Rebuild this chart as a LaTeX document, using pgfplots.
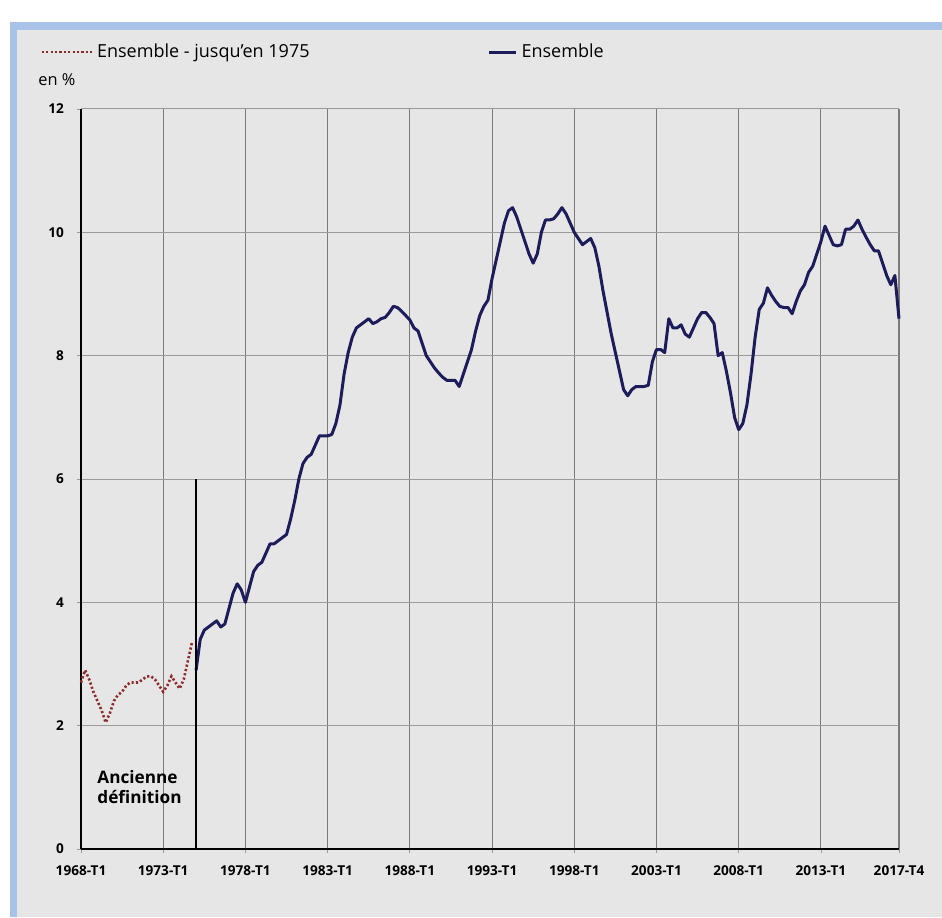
\documentclass[border=0pt]{standalone}
\usepackage{fontspec}
\setmainfont{Open Sans}
\usepackage{pgfplots}
\usepackage{pgfplotstable}
\pgfplotsset{compat=1.18}
\definecolor{bg}{HTML}{E6E6E6}
\definecolor{frameblue}{HTML}{A9C3E8}
\definecolor{navy}{HTML}{1C1C5A}
\definecolor{dred}{HTML}{8E2A2A}
\definecolor{gridx}{HTML}{7A7A7A}
\definecolor{gridy}{HTML}{9A9A9A}
\pgfplotsset{
  legA/.style={legend image code/.code={\draw[##1] (0pt,0pt) -- (25pt,0pt);}},
  legB/.style={legend image code/.code={\draw[##1] (0pt,0pt) -- (13.5pt,0pt);}},
}

\pgfplotstableread{
q v
0 2.70
1 2.90
2 2.75
3 2.55
4 2.40
5 2.25
6 2.05
7 2.20
8 2.40
9 2.50
10 2.55
11 2.65
12 2.70
13 2.70
14 2.70
15 2.75
16 2.80
17 2.80
18 2.75
19 2.65
20 2.55
21 2.65
22 2.80
23 2.70
24 2.60
25 2.75
26 3.05
27 3.35
}\ancienne

\pgfplotstableread{
q v
28 2.90
29 3.40
30 3.55
31 3.60
32 3.65
33 3.70
34 3.60
35 3.65
36 3.90
37 4.15
38 4.30
39 4.20
40 4.00
41 4.25
42 4.50
43 4.60
44 4.65
45 4.80
46 4.95
47 4.95
48 5.00
49 5.05
50 5.10
51 5.35
52 5.65
53 6.00
54 6.25
55 6.35
56 6.40
57 6.55
58 6.70
59 6.70
60 6.70
61 6.72
62 6.90
63 7.20
64 7.70
65 8.05
66 8.30
67 8.45
68 8.50
69 8.55
70 8.60
71 8.52
72 8.55
73 8.60
74 8.62
75 8.70
76 8.80
77 8.78
78 8.72
79 8.65
80 8.58
81 8.45
82 8.40
83 8.20
84 8.00
85 7.90
86 7.80
87 7.72
88 7.65
89 7.60
90 7.60
91 7.60
92 7.50
93 7.70
94 7.90
95 8.10
96 8.40
97 8.65
98 8.80
99 8.90
100 9.25
101 9.55
102 9.85
103 10.15
104 10.35
105 10.40
106 10.25
107 10.05
108 9.85
109 9.65
110 9.50
111 9.65
112 10.00
113 10.20
114 10.20
115 10.22
116 10.30
117 10.40
118 10.30
119 10.15
120 10.00
121 9.90
122 9.80
123 9.85
124 9.90
125 9.75
126 9.45
127 9.05
128 8.70
129 8.35
130 8.05
131 7.75
132 7.45
133 7.35
134 7.45
135 7.50
136 7.50
137 7.50
138 7.52
139 7.90
140 8.10
141 8.10
142 8.05
143 8.60
144 8.45
145 8.45
146 8.50
147 8.35
148 8.30
149 8.45
150 8.60
151 8.70
152 8.70
153 8.62
154 8.52
155 8.00
156 8.05
157 7.75
158 7.40
159 7.00
160 6.80
161 6.90
162 7.20
163 7.70
164 8.30
165 8.75
166 8.85
167 9.10
168 8.98
169 8.88
170 8.80
171 8.78
172 8.78
173 8.68
174 8.88
175 9.05
176 9.15
177 9.35
178 9.45
179 9.65
180 9.85
181 10.10
182 9.95
183 9.80
184 9.78
185 9.80
186 10.05
187 10.05
188 10.10
189 10.20
190 10.05
191 9.92
192 9.80
193 9.70
194 9.70
195 9.50
196 9.30
197 9.15
198 9.30
199 8.60
}\ensemble

\begin{document}
\begin{tikzpicture}[x=1pt,y=1pt]
\fill[white] (0,0) rectangle (471,458.5);
\fill[bg] (8.5,0) rectangle (471,443.5);
\fill[frameblue] (5,0) rectangle (8.5,447.5);
\fill[frameblue] (5,443.5) rectangle (471,447.5);
\begin{axis}[
  at={(40.5pt,34pt)}, anchor=south west,
  scale only axis, width=409pt, height=370pt,
  xmin=0, xmax=199, ymin=0, ymax=12,
  axis lines=left, axis line style={-, line width=1.4pt, black},
  xtick={0,20,40,60,80,100,120,140,160,180,199},
  xticklabels={1968-T1,1973-T1,1978-T1,1983-T1,1988-T1,1993-T1,1998-T1,2003-T1,2008-T1,2013-T1,2017-T4},
  ytick={0,2,4,6,8,10,12},
  grid=major,
  x grid style={gridx, line width=0.55pt},
  y grid style={gridy, line width=0.5pt},
  tick align=outside, major tick length=2pt,
  tick style={gridy, line width=0.4pt},
  ticklabel style={font=\fontsize{6.8}{7}\selectfont\bfseries},
  /pgf/number format/assume math mode=true,
  xticklabel style={yshift=-3pt},
  yticklabel style={xshift=-3pt},
  clip=false,
  legend columns=2,
  legend cell align=left,
  legend style={at={(-0.0501,1.077)}, anchor=west, draw=none, fill=none,
    inner sep=0pt, font=\fontsize{9}{10}\selectfont,
    /tikz/every even column/.append style={column sep=87pt}},
]
\addplot[dred, line width=1.3pt, dash pattern=on 1.1pt off 1.1pt, legA]
  table[x=q,y=v] {\ancienne};
\addlegendentry{Ensemble - jusqu'en 1975}
\addplot[navy, line width=1.5pt, line join=round, legB]
  table[x=q,y=v] {\ensemble};
\addlegendentry{Ensemble}
\addplot[black, line width=1pt, forget plot] coordinates {(28,0) (28,6)};
\node[anchor=west, inner sep=0pt, font=\fontsize{8.2}{10}\selectfont]
  at (rel axis cs:-0.0526,1.039) {en \%};
\node[anchor=north west, align=left, inner sep=0pt, font=\fontsize{8.6}{10}\selectfont\bfseries]
  at (axis cs:3.9,1.28) {Ancienne\\définition};
\end{axis}
\end{tikzpicture}
\end{document}
